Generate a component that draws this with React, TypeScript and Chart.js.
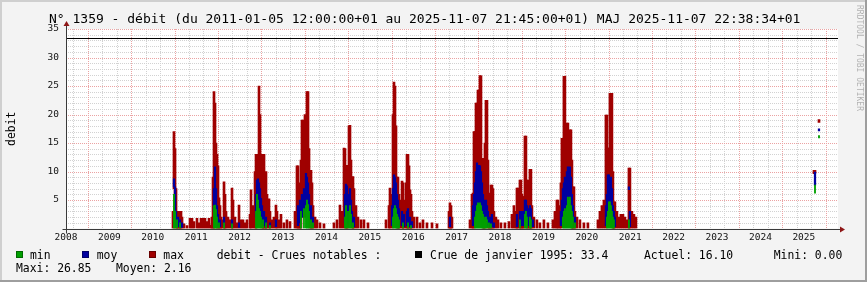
import React, { useEffect, useRef } from 'react';
import { Chart, registerables } from 'chart.js';

Chart.register(...registerables);

const W = 867;
const H = 282;
const MONO = '"DejaVu Sans Mono", monospace';

const TITLE = 'N° 1359 - débit (du 2011-01-05 12:00:00+01 au 2025-11-07 21:45:00+01) MAJ 2025-11-07 22:38:34+01';
const Y_TITLE = 'debit';
const WATERMARK = 'RRDTOOL / TOBI OETIKER';

const YEAR_TICKS = [2008, 2009, 2010, 2011, 2012, 2013, 2014, 2015, 2016, 2017, 2018, 2019, 2020, 2021, 2022, 2023, 2024, 2025];
const Y_TICKS = [5, 10, 15, 20, 25, 30, 35];
const X_MIN = 2008.0;
const X_MAX = 2025.787;
const Y_MIN = 0;
const Y_MAX = 35;
const CRUE_VALUE = 33.4;

const GREEN = '#00A000';
const BLUE = '#0000A0';
const RED = '#A00000';

// ---- max (red): x in decimal years, low / high of each column ----
const maxX = [
  2010.465, 2010.488, 2010.512, 2010.535, 2010.558, 2010.581, 2010.604, 2010.627, 2010.650, 2010.673, 2010.719, 2010.788, 2010.857, 2010.903, 2010.949, 2011.018, 2011.064, 2011.111, 2011.157, 2011.203, 2011.249, 2011.295, 2011.341,
  2011.364, 2011.387, 2011.410, 2011.433, 2011.456, 2011.479, 2011.502, 2011.525, 2011.548, 2011.571, 2011.594, 2011.641, 2011.664, 2011.687, 2011.733, 2011.779, 2011.825, 2011.848, 2011.894, 2011.940, 2011.986, 2012.032, 2012.078, 2012.124, 2012.170, 2012.240,
  2012.263, 2012.309, 2012.355, 2012.378, 2012.401, 2012.424, 2012.447, 2012.470, 2012.493, 2012.516, 2012.539, 2012.562, 2012.585, 2012.608, 2012.631, 2012.677, 2012.700, 2012.746, 2012.792, 2012.838, 2012.861, 2012.907, 2012.953, 2013.022, 2013.091, 2013.161,
  2013.276, 2013.322, 2013.345, 2013.368, 2013.391, 2013.414, 2013.437, 2013.460, 2013.483, 2013.506, 2013.529, 2013.552, 2013.576, 2013.599, 2013.622, 2013.645, 2013.668, 2013.691, 2013.737, 2013.783, 2013.852, 2013.944,
  2014.174, 2014.244, 2014.313, 2014.359, 2014.405, 2014.428, 2014.451, 2014.474, 2014.497, 2014.520, 2014.543, 2014.566, 2014.589, 2014.612, 2014.635, 2014.681, 2014.727, 2014.796, 2014.865, 2014.958,
  2015.373, 2015.442, 2015.465, 2015.511, 2015.534, 2015.557, 2015.580, 2015.603, 2015.626, 2015.649, 2015.672, 2015.695, 2015.742, 2015.765, 2015.788, 2015.834, 2015.857, 2015.880, 2015.903, 2015.926, 2015.949, 2015.972, 2016.018, 2016.087, 2016.156, 2016.225, 2016.317, 2016.433, 2016.548,
  2016.824, 2016.847, 2016.870, 2016.893,
  2017.308, 2017.354, 2017.377, 2017.400, 2017.423, 2017.446, 2017.469, 2017.492, 2017.515, 2017.538, 2017.561, 2017.584, 2017.607, 2017.630, 2017.653, 2017.676, 2017.699, 2017.722, 2017.745, 2017.768, 2017.791, 2017.814, 2017.837, 2017.860, 2017.906, 2017.952, 2018.021, 2018.113, 2018.206,
  2018.275, 2018.321, 2018.367, 2018.390, 2018.413, 2018.459, 2018.482, 2018.505, 2018.528, 2018.551, 2018.574, 2018.597, 2018.620, 2018.643, 2018.666, 2018.689, 2018.712, 2018.735, 2018.781, 2018.850, 2018.919, 2019.011, 2019.104,
  2019.219, 2019.265, 2019.311, 2019.334, 2019.380, 2019.403, 2019.426, 2019.449, 2019.472, 2019.495, 2019.518, 2019.541, 2019.564, 2019.587, 2019.610, 2019.634, 2019.657, 2019.680, 2019.703, 2019.726, 2019.772, 2019.841, 2019.933, 2020.025,
  2020.256, 2020.302, 2020.348, 2020.394, 2020.440, 2020.463, 2020.486, 2020.509, 2020.532, 2020.555, 2020.578, 2020.601, 2020.624, 2020.647, 2020.693, 2020.739, 2020.785, 2020.832, 2020.878, 2020.924, 2020.970, 2020.993, 2021.039, 2021.085, 2021.131,
  2025.234, 2025.257, 2025.349,
];
const maxLo = [
  0, 7, 2, 0, 0, 0, 0, 0, 0, 0, 0, 0, 0, 0, 0, 0, 0, 0, 0, 0, 0, 0, 0,
  0, 0, 0, 3, 5, 0, 0, 0, 0, 0, 0, 0, 0, 0, 0, 0, 0, 0, 0, 0, 0, 0, 0, 0, 0, 0,
  0, 0, 0, 0, 2, 4, 3, 5, 2, 0, 0, 0, 0, 0, 0, 0, 0, 0, 0, 0, 0, 0, 0, 0, 0, 0,
  0, 0, 0, 0, 0, 0, 2, 3, 2, 3, 2, 4, 5, 2, 0, 0, 0, 0, 0, 0, 0, 0,
  0, 0, 0, 0, 0, 2, 0, 0, 0, 3, 4, 2, 0, 0, 0, 0, 0, 0, 0, 0,
  0, 0, 0, 0, 1, 3, 4, 2, 0, 0, 0, 0, 0, 0, 0, 0, 0, 0, 0, 0, 0, 0, 0, 0, 0, 0, 0, 0, 0,
  0, 0, 0, 0,
  0, 0, 0, 0, 1, 2, 3, 3, 4, 5, 4, 2, 0, 0, 0, 2, 2, 0, 0, 0, 0, 0, 0, 0, 0, 0, 0, 0, 0,
  0, 0, 0, 0, 0, 0, 0, 0, 0, 0, 2, 2, 0, 0, 0, 0, 0, 0, 0, 0, 0, 0, 0,
  0, 0, 0, 0, 0, 0, 1, 2, 3, 3, 2, 2, 2, 1, 1, 1, 0, 0, 0, 0, 0, 0, 0, 0,
  0, 0, 0, 0, 0, 1, 1, 1, 2, 3, 2, 0, 0, 0, 0, 0, 0, 0, 0, 0, 0, 0, 0, 0, 0,
  9.6, 9.7, 18.6,
];
const maxHi = [
  3, 17, 14, 7, 3, 3, 3, 2.5, 3, 2, 0.8, 0.5, 1.8, 1.8, 1.2, 1.8, 1, 1.8, 1.8, 1.8, 1.2, 1.8, 0.6,
  2, 9, 24, 22, 15, 13, 11, 5.4, 4, 2, 1.5, 8.2, 6, 3, 2, 1.5, 7.1, 5, 2, 1, 4.1, 1.5, 1.5, 1, 1.5, 2.5,
  6.8, 4, 10, 13, 12, 13, 25, 20, 13, 13, 12, 13, 8, 10, 6, 5.2, 3, 1.5, 2, 4.1, 3, 1.5, 2.5, 1, 1.5, 1.2,
  3, 11, 11, 7, 8, 12, 19, 19, 16, 20, 12, 24, 24, 14, 10, 10.2, 8, 4, 2, 1.5, 1, 0.8,
  1, 1.5, 4.1, 3, 14.1, 14, 11, 11.1, 9, 18, 18.1, 12, 9, 9.1, 7, 4, 2, 1.5, 1.5, 1,
  1.5, 4, 7.1, 6, 20, 25.7, 25, 18, 9, 9, 6, 5, 8.3, 8, 5, 8, 13, 13, 11, 6.8, 6, 3, 2, 2, 1, 1.5, 1, 1, 0.8,
  3, 4.5, 4, 2,
  1.5, 6, 6.2, 17, 17, 22, 22, 24.3, 24.3, 26.85, 26.8, 12.3, 12.3, 10, 15, 22.5, 22.5, 12, 6.2, 5, 7.6, 7.6, 7, 3, 2, 1.5, 1, 1, 1.2,
  2.5, 4, 3, 7.1, 7.1, 8.5, 8.5, 6, 5.6, 5.6, 16.2, 16.2, 8.5, 8.5, 6, 10.4, 10.4, 4, 2, 1.5, 1, 1.5, 1,
  1.5, 3, 5, 5, 4, 8, 15.8, 15.8, 26.7, 26.7, 14, 18.5, 18.5, 12, 17.3, 17.3, 12, 7.3, 7.3, 3, 2, 1.5, 1, 1,
  1.5, 3, 4, 5, 19.9, 19.9, 14.1, 14.1, 23.7, 23.7, 23.7, 10, 4.7, 4.7, 3, 2, 2.5, 2.5, 2, 1.5, 10.6, 10.6, 3, 2.5, 2,
  10.2, 10.2, 19.1,
];

// ---- moy (blue) ----
const moyX = [
  2010.488, 2010.512, 2010.535, 2010.581, 2010.627, 2010.673,
  2011.410, 2011.433, 2011.456, 2011.479, 2011.502, 2011.548, 2011.641, 2011.825, 2011.986,
  2012.378, 2012.401, 2012.424, 2012.447, 2012.470, 2012.493, 2012.516, 2012.562, 2012.608, 2012.700, 2012.838,
  2013.345, 2013.391, 2013.437, 2013.483, 2013.529, 2013.552, 2013.576, 2013.599, 2013.645, 2013.691,
  2014.428, 2014.451, 2014.474, 2014.497, 2014.520, 2014.543, 2014.566, 2014.589, 2014.635,
  2015.511, 2015.534, 2015.557, 2015.580, 2015.603, 2015.626, 2015.649, 2015.672, 2015.742, 2015.788, 2015.857, 2015.880, 2015.926, 2015.972,
  2016.847,
  2017.377, 2017.400, 2017.423, 2017.446, 2017.469, 2017.492, 2017.515, 2017.538, 2017.561, 2017.584, 2017.607, 2017.630, 2017.653, 2017.676, 2017.699, 2017.722, 2017.768, 2017.814, 2017.860,
  2018.390, 2018.459, 2018.505, 2018.551, 2018.574, 2018.597, 2018.620, 2018.643, 2018.689, 2018.712, 2018.758,
  2019.403, 2019.426, 2019.449, 2019.472, 2019.495, 2019.518, 2019.541, 2019.564, 2019.587, 2019.610, 2019.634, 2019.657, 2019.680, 2019.726,
  2020.440, 2020.463, 2020.486, 2020.509, 2020.532, 2020.555, 2020.578, 2020.601, 2020.624, 2020.647, 2020.970, 2020.993,
  2025.257, 2025.349,
];
const moyLo = [
  7.3, 1, 0.5, 0.3, 0.3, 0.2,
  3, 6.7, 3.2, 1, 0.5, 0.3, 0.5, 0.3, 0.2,
  2, 4, 3, 4, 3, 2, 1, 0.5, 0.3, 0.3, 0.3,
  0.5, 1, 2, 3, 4, 5, 4, 2, 1, 0.5,
  1, 2, 2, 1, 2, 2, 1, 0.5, 0.3,
  0.5, 1, 3, 4, 3, 2, 1, 0.5, 0.5, 0.3, 0.5, 0.5, 0.3, 0.2,
  0.3,
  0.5, 1, 2, 3, 4, 5, 4, 5, 4, 3, 2, 1, 1, 1, 1, 0.5, 0.3, 0.3, 0.2,
  0.3, 0.5, 0.5, 0.5, 1, 1.5, 1, 0.5, 0.5, 0.5, 0.3,
  0.5, 1, 2, 2.5, 3, 2, 3, 3, 3, 3, 2.5, 2, 1, 0.5,
  0.5, 1, 2, 2, 2, 2, 1, 0.5, 0.5, 0.3, 6.8, 0.3,
  7.6, 17.1,
];
const moyHi = [
  8.7, 7.3, 3, 2, 1.5, 1,
  7, 10.8, 7, 4, 2.5, 1.5, 2, 1.5, 1,
  6, 8.5, 8.7, 8, 7, 5.3, 4, 3, 2, 1, 1.5,
  4, 5, 6, 7, 9.7, 9, 8, 6, 4, 2,
  6, 7.8, 7.5, 5, 6, 7, 5, 3, 2,
  4, 7, 9.4, 9, 8, 6, 5, 3.5, 3, 2.5, 3, 3.5, 2, 1.2,
  2,
  4, 6, 8, 10, 11.5, 11, 11.1, 11, 10, 8, 6, 5, 4.5, 5, 4, 3, 2, 2.5, 1,
  2.5, 3, 3, 3, 5, 5, 4, 3.5, 4, 3.5, 1.5,
  3, 5, 7, 8, 9, 8, 10, 10.8, 10, 10.8, 9, 6, 4, 2,
  4, 6, 9.4, 9.4, 8, 9, 7, 4, 3, 2, 7.3, 3,
  9.9, 17.5,
];

// ---- min (green) ----
const minX = [
  2010.488, 2010.512, 2010.558, 2010.627,
  2011.410, 2011.433, 2011.456, 2011.479, 2011.525, 2011.641, 2011.825,
  2012.378, 2012.401, 2012.424, 2012.447, 2012.470, 2012.493, 2012.539, 2012.608, 2012.700,
  2013.414, 2013.483, 2013.529, 2013.552, 2013.576, 2013.599, 2013.645, 2013.691,
  2014.428, 2014.451, 2014.474, 2014.520, 2014.543, 2014.566, 2014.612,
  2015.534, 2015.557, 2015.580, 2015.603, 2015.626, 2015.649, 2015.672, 2015.765, 2015.880, 2015.949,
  2017.423, 2017.446, 2017.469, 2017.492, 2017.515, 2017.538, 2017.561, 2017.584, 2017.607, 2017.630, 2017.653, 2017.676, 2017.699, 2017.745, 2017.791,
  2018.459, 2018.574, 2018.597, 2018.620, 2018.689, 2018.712,
  2019.449, 2019.472, 2019.495, 2019.518, 2019.541, 2019.564, 2019.587, 2019.610, 2019.634, 2019.657, 2019.680, 2019.726,
  2020.463, 2020.486, 2020.509, 2020.532, 2020.555, 2020.578, 2020.601, 2020.624, 2020.970,
  2025.257, 2025.349,
];
const minLo = [
  0, 0, 0, 0,
  0, 0, 0, 0, 0, 0, 0,
  0, 0, 0, 0, 0, 0, 0, 0, 0,
  0, 0, 0, 0, 0, 0, 0, 0,
  0, 0, 0, 0, 0, 0, 0,
  0, 0, 0, 0, 0, 0, 0, 0, 0, 0,
  0, 0, 0, 0, 0, 0, 0, 0, 0, 0, 0, 0, 0, 0, 0,
  0, 0, 0, 0, 0, 0,
  0, 0, 0, 0, 0, 0, 0, 0, 0, 0, 0, 0,
  0, 0, 0, 0, 0, 0, 0, 0, 0,
  6.2, 15.9,
];
const minHi = [
  6, 3, 1.5, 1,
  4, 4.1, 3.3, 2, 1, 1, 0.8,
  3, 6, 5, 3.5, 3, 2, 1.5, 1, 0.5,
  3, 3.5, 4, 5, 4.2, 3, 1.5, 1,
  2, 4, 3, 3, 4, 2.5, 1,
  2, 3.5, 4, 3.5, 2.5, 2, 1.5, 1, 1, 0.5,
  2, 3, 4, 4.5, 4.3, 4.5, 4, 3, 2.5, 2, 1.5, 2, 1.5, 1, 0.8,
  1.5, 2.5, 3, 2, 2, 1.5,
  2, 3, 3.5, 3, 4, 5.5, 5, 5.5, 4, 3, 2, 1,
  2, 3, 4.7, 4.7, 4, 3, 2, 1.5, 1.5,
  7.6, 16.3,
];

// ---- legend texts ----
const LEGEND_SERIES = [
  { label: 'min', color: GREEN },
  { label: 'moy', color: BLUE },
  { label: 'max', color: RED },
];
const LEGEND_NOTE = 'debit - Crues notables :';
const CRUE_LABEL = 'Crue de janvier 1995: 33.4';
const ACTUEL = 'Actuel: 16.10';
const MINI = 'Mini: 0.00';
const MAXI = 'Maxi: 26.85';
const MOYEN = 'Moyen: 2.16';

function build(xs: number[], lo: number[], hi: number[]) {
  return xs.map((x, i) => ({ x, y: [lo[i], hi[i]] }));
}

const rrdPlugin = {
  id: 'rrdLook',
  beforeDraw(chart: any) {
    const ctx = chart.ctx as CanvasRenderingContext2D;
    const { left, right, top, bottom } = chart.chartArea;
    ctx.save();
    ctx.fillStyle = '#F3F3F3';
    ctx.fillRect(0, 0, W, H);
    ctx.fillStyle = '#CFCFCF';
    ctx.fillRect(0, 0, W, 2);
    ctx.fillRect(0, 0, 2, H);
    ctx.fillStyle = '#9E9E9E';
    ctx.fillRect(0, H - 2, W, 2);
    ctx.fillRect(W - 2, 0, 2, H);
    ctx.fillStyle = '#FFFFFF';
    ctx.fillRect(left, top, right - left, bottom - top);
    ctx.restore();
  },
  beforeDatasetsDraw(chart: any) {
    const ctx = chart.ctx as CanvasRenderingContext2D;
    const xs = chart.scales.x;
    const ys = chart.scales.y;
    const { left, right, top, bottom } = chart.chartArea;
    ctx.save();
    ctx.lineWidth = 1;
    ctx.setLineDash([1, 1]);
    // minor grid
    ctx.strokeStyle = '#D2D2D2';
    ctx.beginPath();
    for (let v = Y_MIN + 1; v < Y_MAX; v++) {
      if (v % 5 === 0) continue;
      const y = Math.round(ys.getPixelForValue(v)) + 0.5;
      ctx.moveTo(left, y);
      ctx.lineTo(right, y);
    }
    for (let yr = 2007; yr <= 2026; yr++) {
      for (const f of [1 / 6, 5 / 6]) {
        const v = yr + f;
        if (v <= X_MIN || v >= X_MAX) continue;
        const x = Math.round(xs.getPixelForValue(v)) + 0.5;
        ctx.moveTo(x, top);
        ctx.lineTo(x, bottom);
      }
    }
    ctx.stroke();
    // major grid
    ctx.strokeStyle = '#EBA3A3';
    ctx.beginPath();
    for (const v of Y_TICKS) {
      const y = Math.round(ys.getPixelForValue(v)) + 0.5;
      ctx.moveTo(left, y);
      ctx.lineTo(right, y);
    }
    for (let yr = 2007; yr <= 2026; yr++) {
      const v = yr + 0.5;
      if (v <= X_MIN || v >= X_MAX) continue;
      const x = Math.round(xs.getPixelForValue(v)) + 0.5;
      ctx.moveTo(x, top);
      ctx.lineTo(x, bottom);
    }
    ctx.stroke();
    ctx.restore();
  },
  afterDatasetsDraw(chart: any) {
    const ctx = chart.ctx as CanvasRenderingContext2D;
    const xs = chart.scales.x;
    const ys = chart.scales.y;
    const { left, right, top } = chart.chartArea;
    ctx.save();
    // HRULE crue
    const yc = Math.round(ys.getPixelForValue(CRUE_VALUE)) + 0.5;
    ctx.strokeStyle = '#000000';
    ctx.lineWidth = 1;
    ctx.beginPath();
    ctx.moveTo(left, yc);
    ctx.lineTo(right, yc);
    ctx.stroke();
    // axes
    const y0 = Math.round(ys.getPixelForValue(0)) + 0.5;
    const x0 = Math.round(xs.getPixelForValue(X_MIN)) + 0.5;
    ctx.strokeStyle = '#3A3A3A';
    ctx.beginPath();
    ctx.moveTo(x0 - 4, y0);
    ctx.lineTo(right + 4, y0);
    ctx.moveTo(x0, y0 + 4);
    ctx.lineTo(x0, top - 4);
    ctx.stroke();
    ctx.fillStyle = '#8E1616';
    ctx.beginPath();
    ctx.moveTo(x0 - 3, top - 3);
    ctx.lineTo(x0 + 3, top - 3);
    ctx.lineTo(x0, top - 8);
    ctx.closePath();
    ctx.fill();
    ctx.beginPath();
    ctx.moveTo(right + 2, y0 - 3);
    ctx.lineTo(right + 2, y0 + 3);
    ctx.lineTo(right + 7, y0);
    ctx.closePath();
    ctx.fill();
    ctx.restore();
  },
  afterDraw(chart: any) {
    const ctx = chart.ctx as CanvasRenderingContext2D;
    const { top, bottom } = chart.chartArea;
    ctx.save();
    ctx.fillStyle = '#000000';
    ctx.textBaseline = 'alphabetic';
    ctx.textAlign = 'left';
    ctx.font = `13px ${MONO}`;
    ctx.fillText(TITLE, 49, 22.5);

    // y title
    ctx.save();
    ctx.translate(14.5, (top + bottom) / 2);
    ctx.rotate(-Math.PI / 2);
    ctx.textAlign = 'center';
    ctx.textBaseline = 'alphabetic';
    ctx.font = `11.4px ${MONO}`;
    ctx.fillText(Y_TITLE, 0, 0);
    ctx.restore();

    // watermark
    ctx.save();
    ctx.translate(863, 5);
    ctx.rotate(Math.PI / 2);
    ctx.textAlign = 'left';
    ctx.textBaseline = 'top';
    ctx.font = `8px ${MONO}`;
    ctx.fillStyle = 'rgba(0,0,0,0.28)';
    ctx.fillText(WATERMARK, 0, 0);
    ctx.restore();

    // legend
    ctx.font = `11.4px ${MONO}`;
    ctx.textAlign = 'left';
    ctx.textBaseline = 'alphabetic';
    const row1 = 258.5;
    const row2 = 272;
    const boxes = [16, 82, 149];
    const texts = [30, 96.7, 163.3];
    LEGEND_SERIES.forEach((s, i) => {
      ctx.fillStyle = s.color;
      ctx.fillRect(boxes[i], 251, 7, 7);
      ctx.strokeStyle = 'rgba(0,0,0,0.35)';
      ctx.lineWidth = 1;
      ctx.strokeRect(boxes[i] + 0.5, 251.5, 6, 6);
      ctx.fillStyle = '#000000';
      ctx.fillText(s.label, texts[i], row1);
    });
    ctx.fillText(LEGEND_NOTE, 216.7, row1);
    ctx.fillStyle = '#000000';
    ctx.fillRect(415, 251, 7, 7);
    ctx.fillText(CRUE_LABEL, 430, row1);
    ctx.fillText(ACTUEL, 644, row1);
    ctx.fillText(MINI, 773.7, row1);
    ctx.fillText(MAXI, 16, row2);
    ctx.fillText(MOYEN, 116, row2);
    ctx.restore();
  },
};

export default function App() {
  const ref = useRef<HTMLCanvasElement | null>(null);
  useEffect(() => {
    document.body.style.margin = '0';
    const canvas = ref.current;
    if (!canvas) return;
    const chart = new Chart(canvas, {
      type: 'bar',
      data: {
        datasets: [
          { label: 'min', data: build(minX, minLo, minHi) as any, backgroundColor: GREEN, barThickness: 1.2 } as any,
          { label: 'moy', data: build(moyX, moyLo, moyHi) as any, backgroundColor: BLUE, barThickness: 1.6 } as any,
          { label: 'max', data: build(maxX, maxLo, maxHi) as any, backgroundColor: RED, barThickness: 2 } as any,
        ],
      },
      options: {
        responsive: false,
        animation: false,
        devicePixelRatio: 1,
        layout: { padding: { top: 29, left: 0, right: 29, bottom: 39.5 } },
        datasets: {
          bar: { grouped: false, borderWidth: 0, borderSkipped: false } as any,
        },
        plugins: {
          legend: { display: false },
          tooltip: { enabled: false },
          title: { display: false },
        },
        scales: {
          x: {
            type: 'linear',
            min: X_MIN,
            max: X_MAX,
            offset: false,
            grid: { display: false, drawTicks: false, offset: false },
            border: { display: false },
            afterBuildTicks: (s: any) => {
              s.ticks = YEAR_TICKS.map((v) => ({ value: v }));
            },
            afterFit: (s: any) => {
              s.height = 14;
              s.paddingLeft = 0;
              s.paddingRight = 0;
            },
            ticks: {
              autoSkip: false,
              maxRotation: 0,
              minRotation: 0,
              padding: 3,
              color: '#111111',
              font: { family: MONO, size: 9.5 },
              callback: (v: any) => String(v),
            },
          },
          y: {
            type: 'linear',
            min: Y_MIN,
            max: Y_MAX,
            grid: { display: false, drawTicks: false },
            border: { display: false },
            afterBuildTicks: (s: any) => {
              s.ticks = Y_TICKS.map((v) => ({ value: v }));
            },
            afterFit: (s: any) => {
              s.width = 66;
            },
            ticks: {
              padding: 7,
              color: '#111111',
              font: { family: MONO, size: 9.5 },
              callback: (v: any) => String(v),
            },
          },
        },
      },
      plugins: [rrdPlugin],
    });
    return () => chart.destroy();
  }, []);
  return <canvas ref={ref} width={W} height={H} style={{ display: 'block' }} />;
}
